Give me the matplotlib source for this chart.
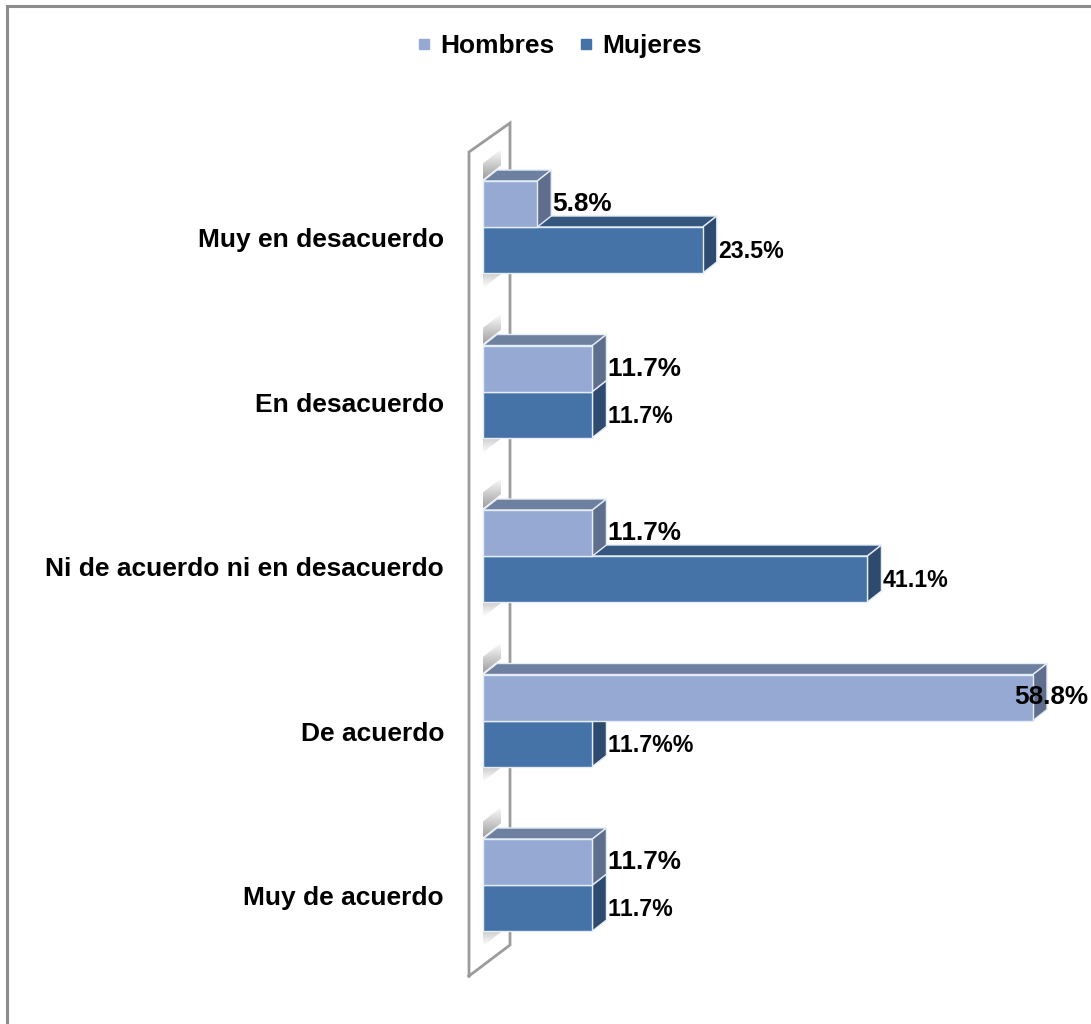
import numpy as np
import matplotlib
matplotlib.use("Agg")
import matplotlib.pyplot as plt
from matplotlib.patches import Polygon, Rectangle
from matplotlib.lines import Line2D

plt.rcParams['font.family'] = ['Liberation Sans', 'DejaVu Sans']
# plain advance widths (no pair kerning) for the number labels
plt.rcParams['text.kerning_factor'] = 12

# ---- data ----
categories = ["Muy en desacuerdo", "En desacuerdo", "Ni de acuerdo ni en desacuerdo",
              "De acuerdo", "Muy de acuerdo"]
hombres = [5.8, 11.7, 11.7, 58.8, 11.7]
mujeres = [23.5, 11.7, 41.1, 11.7, 11.7]
hombres_labels = ["5.8%", "11.7%", "11.7%", "58.8%", "11.7%"]
mujeres_labels = ["23.5%", "11.7%", "41.1%", "11.7%%", "11.7%"]
series_names = ["Hombres", "Mujeres"]

# ---- styling ----
H_FRONT, H_TOP, H_SIDE = "#95A9D2", "#6E80A0", "#5F6E8C"
M_FRONT, M_TOP, M_SIDE = "#4572A7", "#34567F", "#2E4A6E"
EDGE = "#E4ECF6"

W, H = 1091, 1024
fig = plt.figure(figsize=(W / 100, H / 100), dpi=100)

XMAX = 65.0
Y0, Y1 = -0.8, 4.8
PX_PER_CAT = 164.5
ax_left_px, ax_right_px = 483, 1091
ax_top_px = 227 + Y0 * PX_PER_CAT
ax_bot_px = 227 + Y1 * PX_PER_CAT
ax = fig.add_axes([ax_left_px / W, 1 - ax_bot_px / H,
                   (ax_right_px - ax_left_px) / W, (ax_bot_px - ax_top_px) / H])
ax.set_xlim(0, XMAX)
ax.set_ylim(Y1, Y0)
px_per_x = (ax_right_px - ax_left_px) / XMAX

# 3D depth offset of the bars
DX = 14 / px_per_x
DY = 11 / PX_PER_CAT
BAR_H = 46 / PX_PER_CAT

# side wall outline
wall_front_x, wall_back_x = -14 / px_per_x, 27 / px_per_x
wall_pts = [(wall_front_x, (976 - 227) / PX_PER_CAT),
            (wall_front_x, (152 - 227) / PX_PER_CAT),
            (wall_back_x, (123 - 227) / PX_PER_CAT),
            (wall_back_x, (945 - 227) / PX_PER_CAT),
            (wall_front_x, (976 - 227) / PX_PER_CAT)]
wx, wy = zip(*wall_pts)
ax.plot(wx, wy, color="#9C9C9C", lw=2.0, clip_on=False, zorder=1,
        solid_joinstyle="miter")


def gradient_patch(poly_pts, top_dark):
    """Soft grey shadow on the wall, clipped to a parallelogram."""
    xs = [p[0] for p in poly_pts]
    ys = [p[1] for p in poly_pts]
    grad = np.linspace(0, 1, 64).reshape(-1, 1)
    if not top_dark:
        grad = grad[::-1]
    rgba = np.zeros((64, 1, 4))
    rgba[..., :3] = 0.42
    rgba[..., 3] = (1 - grad) * 0.65
    im = ax.imshow(rgba, extent=(min(xs), max(xs), max(ys), min(ys)),
                   aspect="auto", zorder=1.5, interpolation="bilinear")
    clip = Polygon(poly_pts, closed=True, transform=ax.transData)
    im.set_clip_path(clip)


def draw_bar(value, y_top, front, top, side):
    y_bot = y_top + BAR_H
    faces = [
        ([(0, y_top), (DX, y_top - DY), (value + DX, y_top - DY), (value, y_top)], top),
        ([(value, y_top), (value + DX, y_top - DY), (value + DX, y_bot - DY), (value, y_bot)], side),
        ([(0, y_top), (value, y_top), (value, y_bot), (0, y_bot)], front),
    ]
    for pts, col in faces:
        ax.add_patch(Polygon(pts, closed=True, facecolor=col, edgecolor=EDGE,
                             lw=1.0, joinstyle="miter", zorder=2, clip_on=False))


for i, (h, m) in enumerate(zip(hombres, mujeres)):
    h_top = i - BAR_H
    m_top = i
    # shadows on the wall above and below the pair
    sh = 16 / PX_PER_CAT
    sw = 18 / px_per_x
    gradient_patch([(0, h_top - 0.01), (sw, h_top - 0.01 - sw / DX * DY),
                    (sw, h_top - 0.01 - sw / DX * DY - sh), (0, h_top - 0.01 - sh)],
                   top_dark=False)
    mb = m_top + BAR_H
    gradient_patch([(0, mb + 0.005), (sw, mb + 0.005 - sw / DX * DY),
                    (sw, mb + 0.005 - sw / DX * DY + sh * 0.9), (0, mb + 0.005 + sh * 0.9)],
                   top_dark=True)
    draw_bar(m, m_top, M_FRONT, M_TOP, M_SIDE)
    draw_bar(h, h_top, H_FRONT, H_TOP, H_SIDE)

    # value labels
    for val, lab, yc, size in ((h, hombres_labels[i], h_top + BAR_H / 2, 18.8),
                                (m, mujeres_labels[i], m_top + BAR_H / 2 + 0.01, 16.7)):
        xl = val + DX + 0.1
        est_w = len(lab) * size * 1.389 * 0.57 / px_per_x
        if xl + est_w > XMAX:
            ax.text(XMAX - 0.3, yc, lab, ha="right", va="center", fontsize=size,
                    fontweight="bold", color="black", zorder=5, clip_on=False)
        else:
            ax.text(xl, yc, lab, ha="left", va="center", fontsize=size,
                    fontweight="bold", color="black", zorder=5, clip_on=False)

# category labels
label_offset = 11 / PX_PER_CAT
ax.set_yticks(np.arange(len(categories)) + label_offset)
ax.set_yticklabels(categories, fontsize=19, fontweight="bold")
ax.tick_params(axis="y", length=0, pad=28)
ax.set_xticks([])
for s in ax.spines.values():
    s.set_visible(False)
ax.patch.set_visible(False)

# legend
handles = [Line2D([], [], ls="none", marker="s", markersize=7, color=H_FRONT),
           Line2D([], [], ls="none", marker="s", markersize=7, color=M_FRONT)]
leg = fig.legend(handles, series_names, loc="center", bbox_to_anchor=(559 / W, 1 - 46 / H),
                 ncol=2, frameon=False, handlelength=0.6, handletextpad=0.3,
                 columnspacing=0.9, prop={"size": 19, "weight": "bold"})

# chart frame
fig.add_artist(Rectangle((7 / W, -0.1), 1.2, 1.1 - 6 / H, transform=fig.transFigure,
                         fill=False, edgecolor="#8C8C8C", lw=2.2))

fig.savefig("out.png", dpi=100, facecolor="white")
